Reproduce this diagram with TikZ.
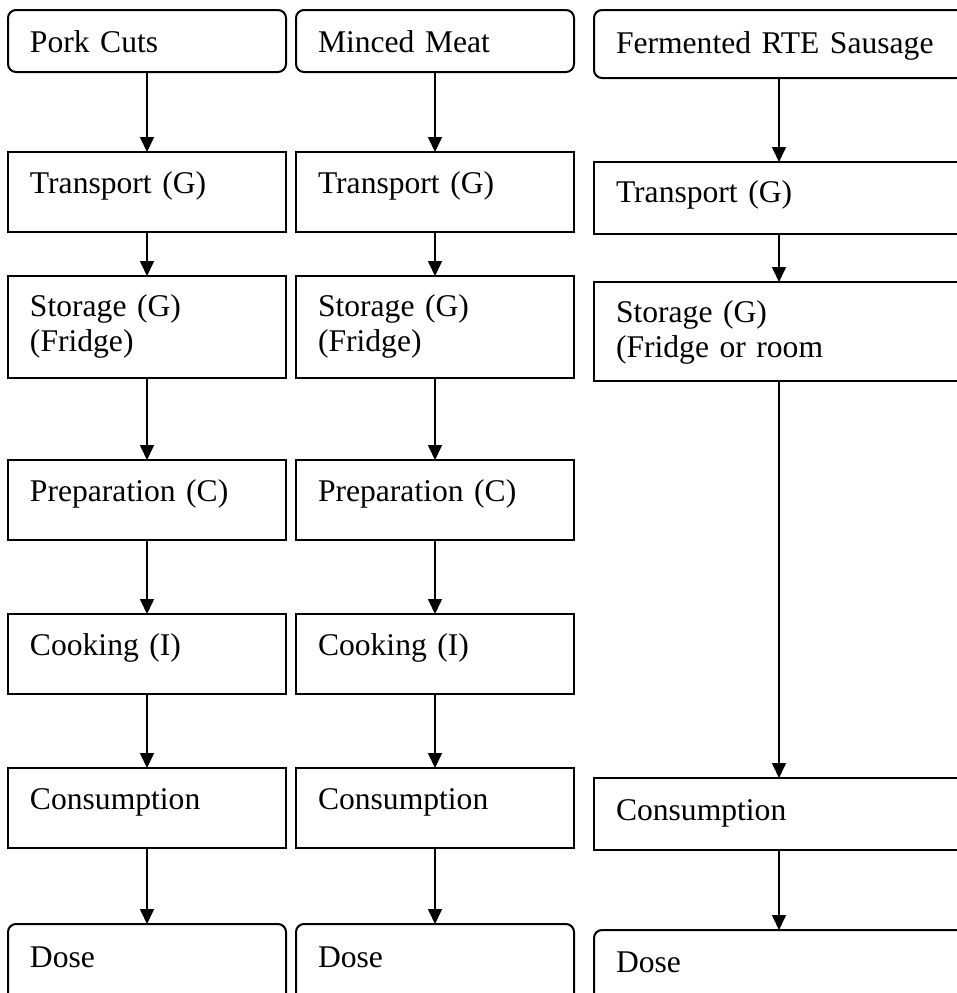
\documentclass[tikz,border=0pt]{standalone}
\usepackage{fontspec}
\setmainfont{Liberation Serif}
\usepackage{tikz}
\usetikzlibrary{arrows.meta,positioning}

\begin{document}
\begin{tikzpicture}[
  box/.style={draw, line width=1pt, align=left, text width=117pt, inner xsep=11pt, inner ysep=0pt, outer sep=0pt,
    text height=20.5pt, text depth=19.5pt, font=\fontsize{15.8}{17.8}\selectfont},
  ends/.style={box, rounded corners=4pt},
  wide/.style={text width=163pt},
  arr/.style={-{Triangle[length=7.5pt,width=7pt]}, line width=0.8pt}]
  \useasboundingbox (0,0) rectangle (478.5pt,-496.5pt);
  % pork cuts
  \node[ends, anchor=north west, text height=21pt, text depth=10pt] (pork) at (4pt,-5pt) {Pork Cuts};
  \node[box, below=40pt of pork] (ptrans) {Transport (G)};
  \node[box, below=22pt of ptrans, text height=20pt, text depth=31pt] (pstore) {Storage (G)\\(Fridge)};
  \node[box, below=41pt of pstore] (pprep) {Preparation (C)};
  \node[box, below=37pt of pprep] (pcook) {Cooking (I)};
  \node[box, below=37pt of pcook] (pcons) {Consumption};
  \node[ends, below=38pt of pcons, text height=21.5pt, text depth=40pt] (pdose) {Dose};
  % minced meat
  \node[ends, right=5pt of pork, text height=21pt, text depth=10pt] (mince) {Minced Meat};
  \node[box, below=40pt of mince] (mtrans) {Transport (G)};
  \node[box, below=22pt of mtrans, text height=20pt, text depth=31pt] (mstore) {Storage (G)\\(Fridge)};
  \node[box, below=41pt of mstore] (mprep) {Preparation (C)};
  \node[box, below=37pt of mprep] (mcook) {Cooking (I)};
  \node[box, below=37pt of mcook] (mcons) {Consumption};
  \node[ends, below=38pt of mcons, text height=21.5pt, text depth=40pt] (mdose) {Dose};
  % fermented sausage
  \node[ends, wide, anchor=north west, text height=21.5pt, text depth=12.5pt] (ferm) at (297pt,-5pt) {Fermented RTE Sausage};
  \node[box, wide, below=42pt of ferm, text height=20pt, text depth=16pt] (ftrans) {Transport (G)};
  \node[box, wide, below=24pt of ftrans, text height=20pt, text depth=29.5pt] (fstore) {Storage (G)\\(Fridge or room};
  \node[box, wide, below=198.5pt of fstore, text height=21pt, text depth=15pt] (fcons) {Consumption};
  \node[ends, wide, below=40pt of fcons, text height=21pt, text depth=40pt] (fdose) {Dose};
  \draw[arr] (pork) -- (ptrans);
  \draw[arr] (ptrans) -- (pstore);
  \draw[arr] (pstore) -- (pprep);
  \draw[arr] (pprep) -- (pcook);
  \draw[arr] (pcook) -- (pcons);
  \draw[arr] (pcons) -- (pdose);
  \draw[arr] (mince) -- (mtrans);
  \draw[arr] (mtrans) -- (mstore);
  \draw[arr] (mstore) -- (mprep);
  \draw[arr] (mprep) -- (mcook);
  \draw[arr] (mcook) -- (mcons);
  \draw[arr] (mcons) -- (mdose);
  \draw[arr] (ferm) -- (ftrans);
  \draw[arr] (ftrans) -- (fstore);
  \draw[arr] (fstore) -- (fcons);
  \draw[arr] (fcons) -- (fdose);
\end{tikzpicture}
\end{document}
